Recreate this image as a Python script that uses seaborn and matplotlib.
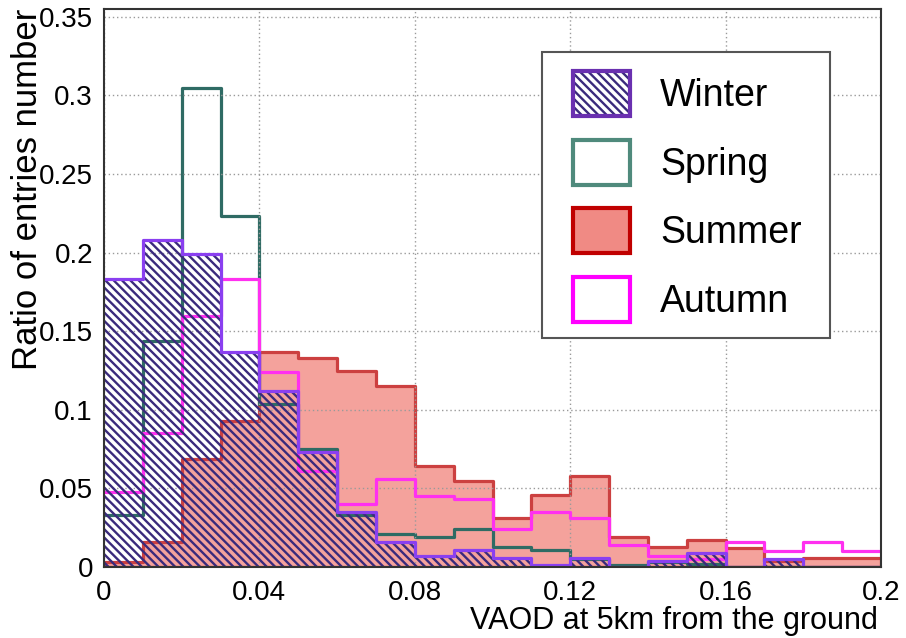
import numpy as np
import pandas as pd
import matplotlib
matplotlib.use("Agg")
import matplotlib.pyplot as plt
from matplotlib.patches import Patch, Rectangle
from matplotlib.legend_handler import HandlerTuple
from matplotlib.ticker import MultipleLocator, FuncFormatter
import seaborn as sns

# ==========================
# Data (ratio of entries per 0.01 VAOD bin)
# ==========================
bin_edges = [round(0.01 * i, 3) for i in range(21)]
bin_centers = [(a + b) / 2 for a, b in zip(bin_edges[:-1], bin_edges[1:])]

winter = [0.183, 0.208, 0.199, 0.137, 0.112, 0.073, 0.035, 0.016, 0.007, 0.011,
          0.006, 0.001, 0.006, 0.000, 0.004, 0.009, 0.000, 0.005, 0.000, 0.000]
spring = [0.033, 0.144, 0.305, 0.223, 0.104, 0.075, 0.033, 0.021, 0.019, 0.024,
          0.013, 0.011, 0.005, 0.001, 0.003, 0.002, 0.000, 0.000, 0.000, 0.000]
summer = [0.003, 0.016, 0.069, 0.093, 0.137, 0.133, 0.125, 0.115, 0.064, 0.055,
          0.031, 0.046, 0.058, 0.019, 0.013, 0.017, 0.012, 0.004, 0.006, 0.006]
autumn = [0.048, 0.085, 0.160, 0.183, 0.124, 0.061, 0.040, 0.056, 0.045, 0.043,
          0.024, 0.035, 0.031, 0.014, 0.007, 0.005, 0.016, 0.010, 0.016, 0.010]

df = pd.DataFrame({"vaod": bin_centers, "Winter": winter, "Spring": spring,
                   "Summer": summer, "Autumn": autumn})

# couleurs
c_winter = "#8a3ff0"
c_hatch = "#3a2a7c"
c_spring = "#2f6b64"
c_summer_fill = "#f4a29c"
c_summer_edge = "#cc4040"
c_autumn = "#ff30f0"
hatch = "\\" * 4

sns.set_style("white")
plt.rcParams["font.family"] = ["Liberation Sans", "DejaVu Sans"]
plt.rcParams["hatch.linewidth"] = 1.7
plt.rcParams["text.color"] = "black"

fig = plt.figure(figsize=(9.06, 6.38), dpi=100)
ax = fig.add_axes([104 / 906, 1 - 567 / 638, (881 - 104) / 906, (567 - 9) / 638])

lw = 2.3

# Summer : rempli
sns.histplot(data=df, x="vaod", weights="Summer", bins=bin_edges, element="step",
             fill=True, color=c_summer_fill, facecolor=c_summer_fill,
             edgecolor=c_summer_edge, linewidth=lw, alpha=1, ax=ax, zorder=1)
# Spring / Autumn : contours
sns.histplot(data=df, x="vaod", weights="Spring", bins=bin_edges, element="step",
             fill=False, color=c_spring, linewidth=lw, ax=ax, zorder=2)
sns.histplot(data=df, x="vaod", weights="Autumn", bins=bin_edges, element="step",
             fill=False, color=c_autumn, linewidth=lw, ax=ax, zorder=3)
# Winter : hachures + contour
sns.histplot(data=df, x="vaod", weights="Winter", bins=bin_edges, element="step",
             fill=True, color=c_hatch, facecolor="none", edgecolor=c_hatch,
             hatch=hatch, linewidth=0, ax=ax, zorder=4)
sns.histplot(data=df, x="vaod", weights="Winter", bins=bin_edges, element="step",
             fill=False, color=c_winter, linewidth=lw, ax=ax, zorder=5)

# ==========================
# Axes
# ==========================
ax.set_xlim(0, 0.2)
ax.set_ylim(0, 0.355)
ax.xaxis.set_major_locator(MultipleLocator(0.04))
ax.xaxis.set_minor_locator(MultipleLocator(0.008))
ax.yaxis.set_major_locator(MultipleLocator(0.05))
ax.yaxis.set_minor_locator(MultipleLocator(0.01))
fmt = FuncFormatter(lambda v, p: "0" if abs(v) < 1e-9 else f"{v:g}")
ax.xaxis.set_major_formatter(fmt)
ax.yaxis.set_major_formatter(fmt)
ax.tick_params(which="both", direction="in", colors="#222222", labelcolor="black",
               labelsize=20)
ax.tick_params(which="major", length=13, width=1.2)
ax.tick_params(which="minor", length=7, width=1.0)
ax.tick_params(axis="y", pad=8)
ax.tick_params(axis="x", pad=9)
ax.set_axisbelow(False)
ax.grid(True, which="major", color="#9a9a9a", linestyle=(0, (1, 2)), linewidth=1.0, zorder=6)
for s in ax.spines.values():
    s.set_color("#333333")
    s.set_linewidth(1.5)
    s.set_zorder(7)
ax.set_xlabel("")
ax.set_ylabel("")

fig.text(878 / 906, 1 - 621 / 638, "VAOD at 5km from the ground", fontsize=22,
         ha="right", va="center", color="black")
fig.text(28 / 906, 1 - 9 / 638, "Ratio of entries number", fontsize=25,
         rotation=90, ha="center", va="top", color="black")

# ==========================
# Légende
# ==========================
frame = Rectangle((542 / 906, 1 - 338 / 638), 288 / 906, 286 / 638,
                  transform=fig.transFigure, facecolor="white", edgecolor="#555555",
                  linewidth=1.5, zorder=9, clip_on=False)
ax.add_patch(frame)

h_winter = (Patch(facecolor="white", edgecolor=c_hatch, hatch=hatch, linewidth=0),
            Patch(facecolor="none", edgecolor="#6a30b0", linewidth=3))
h_spring = Patch(facecolor="white", edgecolor="#4f8a7c", linewidth=3)
h_summer = Patch(facecolor="#f08a84", edgecolor="#c00000", linewidth=3)
h_autumn = Patch(facecolor="white", edgecolor="#ff00ff", linewidth=3)
leg = ax.legend([h_winter, h_spring, h_summer, h_autumn],
                ["Winter", "Spring", "Summer", "Autumn"],
                handler_map={tuple: HandlerTuple(ndivide=1, pad=0)},
                loc="upper left", bbox_to_anchor=((573 - 104) / 777, 1 - (71 - 9) / 558),
                borderaxespad=0, borderpad=0, fontsize=27, handlelength=1.52,
                handleheight=1.47, labelspacing=0.63, handletextpad=0.8,
                frameon=False, labelcolor="black")
leg.set_zorder(10)

plt.savefig("out.png", dpi=100)
